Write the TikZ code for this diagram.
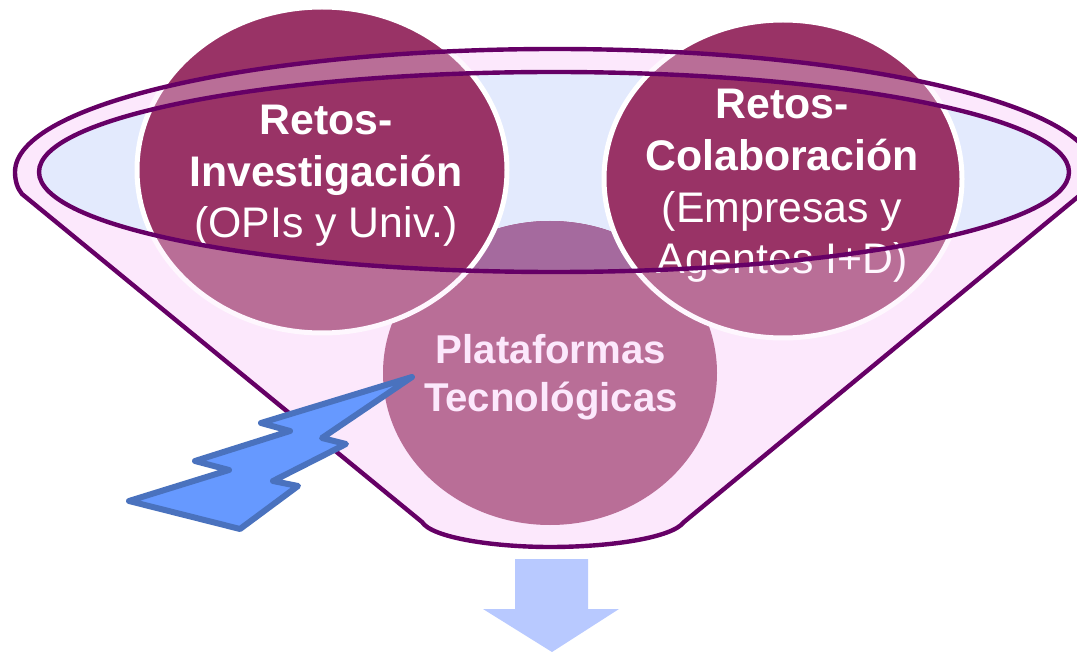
\documentclass[tikz,border=0pt]{standalone}
\usepackage{fontspec}
\setmainfont{Liberation Sans}
\definecolor{funnelpink}{HTML}{FCE8FC}
\definecolor{innerblue}{HTML}{E3EAFD}
\definecolor{plum}{HTML}{993366}
\definecolor{plumblue}{HTML}{A56A9E}
\definecolor{rimline}{HTML}{660066}
\definecolor{boltfill}{HTML}{6699FF}
\definecolor{boltline}{HTML}{4A72BE}
\definecolor{arrowblue}{HTML}{B8C9FF}
\newcommand{\funnelshape}{(15,172) arc[start angle=180,end angle=0,x radius=540pt,y radius=123pt]
  .. controls (1095,180) and (1092,186) .. (1085,191) -- (684,522)
  .. controls (672,538) and (610,547) .. (550,547)
  .. controls (495,547) and (432,538) .. (422,522) -- (22,194)
  .. controls (17,188) and (15,180) .. (15,172) -- cycle}
\newcommand{\innershape}{(554,172) ellipse[x radius=515pt,y radius=100pt]}
\newcommand{\bottomshape}{(550,373) ellipse[x radius=167pt,y radius=152pt]}
\tikzset{
  disc/.style={fill=plum,draw=white,line width=5pt},
  rim/.style={draw=rimline,line width=4.4pt},
  bigtext/.style={text=white,align=center,font=\fontsize{42.8}{51.6}\selectfont},
  midtext/.style={text=funnelpink,align=center,font=\fontsize{40.2}{48}\selectfont\bfseries}
}
\begin{document}
\begin{tikzpicture}[x=1pt,y=-1pt]
\clip (0,0) rectangle (1077,652);
\useasboundingbox (0,0) rectangle (1077,652);
\fill[white] (0,0) rectangle (1077,652);
% funnel body and mouth
\fill[funnelpink] \funnelshape;
\fill[innerblue] \innershape;
% lower disc
\fill[plum] \bottomshape;
\begin{scope}
  \clip \innershape;
  \fill[plumblue] \bottomshape;
\end{scope}
\node[midtext] (plat) at (551,377) {Plataformas\\Tecnológicas};
% upper discs
\path[disc] (322,170) ellipse[x radius=185pt,y radius=163pt];
\path[disc] (783,179) ellipse[x radius=179pt,y radius=159pt];
\node[bigtext] (inv) at (326,176) {\textbf{Retos-}\\\textbf{Investigación}\\(OPIs y Univ.)};
\node[bigtext] (col) at (782,186) {\textbf{Retos-}\\\textbf{Colaboración}\\(Empresas y\\Agentes I+D)};
% translucent funnel wall over the discs, leaving the mouth clear
\fill[funnelpink,fill opacity=0.33,even odd rule] \funnelshape \innershape;
% outlines
\path[rim,line join=round] \funnelshape;
\path[rim] \innershape;
% lightning bolt
\path[fill=boltfill,draw=boltline,line width=6pt,line join=round]
  (412,377) -- (261,423) -- (290,431) -- (195,461) -- (229,470) -- (129,501)
  -- (240,529) -- (298,486) -- (273,481) -- (346,444) -- (322,438) -- cycle;
% down arrow
\fill[arrowblue] (515,559) -- (588,559) -- (588,609) -- (619,609) -- (552,652)
  -- (483,609) -- (515,609) -- cycle;
\end{tikzpicture}
\end{document}
